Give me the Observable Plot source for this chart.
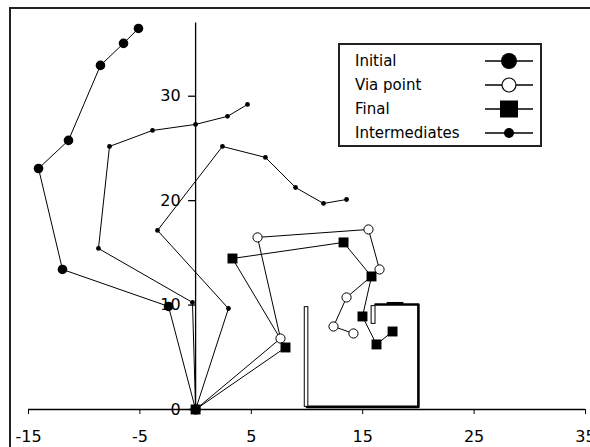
<!DOCTYPE html>
<html>
<head>
<meta charset="utf-8">
<script src="https://cdn.jsdelivr.net/npm/d3@7"></script>
<script src="https://cdn.jsdelivr.net/npm/@observablehq/plot@0.6"></script>
<style>
  body { margin: 0; background: #fff; font-family: "DejaVu Sans", sans-serif; }
  #wrap { position: relative; width: 590px; height: 447px; overflow: hidden; background: #fff; }
  #frame { position: absolute; left: 9px; top: 7px; width: 620px; height: 480px;
           border-left: 2px solid #222; border-top: 2px solid #222; pointer-events: none; }
  #legend { position: absolute; left: 338px; top: 43px; width: 200px; height: 100px;
            border: 2px solid #222; background: #fff; padding: 0; box-sizing: content-box; }
  #legend .rows { padding-top: 4px; padding-left: 15px; }
  #legend .row { display: flex; align-items: center; height: 24px; }
  #legend .lab { width: 130px; font-size: 15px; color: #000; font-family: "DejaVu Sans", sans-serif; }
  #legend svg { display: block; }
</style>
</head>
<body>
<div id="wrap">
  <div id="chart"></div>
  <div id="frame"></div>
  <div id="legend"><div class="rows" id="legendRows"></div></div>
</div>
<script>
// ---- data ----
const xTicks = [-15, -5, 5, 15, 25, 35];
const yTicks = [0, 10, 20, 30];

const seriesNames = ["Initial", "Via point", "Final", "Intermediates"];

const initialX = [0, -2.43, -11.95, -14.1, -11.41, -8.54, -6.47, -5.13];
const initialY = [0, 9.87, 13.41, 23.08, 25.77, 32.95, 35.06, 36.49];

const viaX = [0, 7.62, 5.56, 15.52, 16.51, 13.55, 12.38, 14.17];
const viaY = [0, 6.80, 16.48, 17.24, 13.41, 10.73, 7.95, 7.28];

const finalX = [0, 8.07, 3.31, 13.28, 15.79, 14.98, 16.24, 17.68];
const finalY = [0, 5.94, 14.46, 16.0, 12.74, 8.91, 6.23, 7.47];

const inter1X = [0, -0.28, -8.72, -7.73, -3.87, 0.0, 2.86, 4.66];
const inter1Y = [0, 10.25, 15.42, 25.19, 26.72, 27.3, 28.07, 29.21];

const inter2X = [0, 2.95, -3.42, 2.41, 6.27, 8.97, 11.48, 13.55];
const inter2Y = [0, 9.67, 17.15, 25.19, 24.14, 21.26, 19.73, 20.11];

// obstacle (box) outline
const boxX = [16.15, 20, 20, 10];
const boxY = [10.05, 10.05, 0.25, 0.25];
// thin walls: [x1, x2, y1, y2]
const wallLeft = [9.8, 10.12, 0.25, 9.8];
const wallStub = [15.8, 16.15, 8.2, 9.9];
const topBump = [17.2, 18.7, 10.05, 10.25];

const yAxisTop = 37;

// ---- build ----
const pts = (xs, ys) => xs.map((x, i) => ({x, y: ys[i]}));
const initial = pts(initialX, initialY);
const via = pts(viaX, viaY);
const fin = pts(finalX, finalY);
const inter1 = pts(inter1X, inter1Y);
const inter2 = pts(inter2X, inter2Y);
const rectOf = (a) => [{x1: a[0], x2: a[1], y1: a[2], y2: a[3]}];

const lineOpts = {x: "x", y: "y", stroke: "#000", strokeWidth: 1};

const chart = Plot.plot({
  width: 590,
  height: 447,
  marginLeft: 28,
  marginRight: 5,
  marginTop: 8,
  marginBottom: 38,
  style: {fontFamily: "DejaVu Sans, sans-serif", fontSize: "16px", color: "#000", background: "#fff"},
  x: {domain: [-15, 35], ticks: xTicks, tickSize: 5, tickPadding: 16, tickFormat: d => String(d), label: null},
  y: {domain: [0, 38.4], axis: null},
  marks: [
    // axes
    Plot.ruleY([0], {x1: -15, x2: 35, stroke: "#000", strokeWidth: 1.3}),
    Plot.ruleX([0], {y1: 0, y2: yAxisTop, stroke: "#000", strokeWidth: 1.3}),
    Plot.ruleY(yTicks, {y: d => d, x1: 0, x2: 0, insetLeft: -7, stroke: "#000", strokeWidth: 1.3}),
    Plot.text(yTicks, {x: 0, y: d => d, text: d => String(d), textAnchor: "end", dx: -15, fontSize: 16, fill: "#000"}),
    // obstacle
    Plot.line(pts(boxX, boxY), {x: "x", y: "y", stroke: "#000", strokeWidth: 2.6}),
    Plot.rect(rectOf(wallLeft), {x1: "x1", x2: "x2", y1: "y1", y2: "y2", fill: "#fff", stroke: "#000", strokeWidth: 1}),
    Plot.rect(rectOf(wallStub), {x1: "x1", x2: "x2", y1: "y1", y2: "y2", fill: "#fff", stroke: "#000", strokeWidth: 1}),
    Plot.rect(rectOf(topBump), {x1: "x1", x2: "x2", y1: "y1", y2: "y2", fill: "#000"}),
    // trajectories
    Plot.line(initial, lineOpts),
    Plot.line(via, lineOpts),
    Plot.line(fin, lineOpts),
    Plot.line(inter1, lineOpts),
    Plot.line(inter2, lineOpts),
    Plot.dot(initial, {x: "x", y: "y", r: 4.8, fill: "#000", stroke: "none"}),
    Plot.dot(via, {x: "x", y: "y", r: 4.6, fill: "#fff", stroke: "#000", strokeWidth: 1}),
    Plot.dot(fin, {x: "x", y: "y", symbol: "square", r: 5.6, fill: "#000", stroke: "none"}),
    Plot.dot(inter1, {x: "x", y: "y", r: 2.4, fill: "#000", stroke: "none"}),
    Plot.dot(inter2, {x: "x", y: "y", r: 2.4, fill: "#000", stroke: "none"})
  ]
});
document.getElementById("chart").appendChild(chart);

// ---- legend ----
const legendMarkers = [
  '<circle cx="24" cy="12" r="8" fill="#000"/>',
  '<circle cx="24" cy="12" r="7" fill="#fff" stroke="#000" stroke-width="1.2"/>',
  '<rect x="15" y="3.5" width="18" height="17" fill="#000"/>',
  '<circle cx="24" cy="12" r="5" fill="#000"/>'
];
const rows = document.getElementById("legendRows");
seriesNames.forEach((name, i) => {
  const row = document.createElement("div");
  row.className = "row";
  row.innerHTML = '<span class="lab">' + name + '</span>' +
    '<svg width="48" height="24"><line x1="0" x2="48" y1="12" y2="12" stroke="#000" stroke-width="1.3"/>' +
    legendMarkers[i] + '</svg>';
  rows.appendChild(row);
});
</script>
</body>
</html>
